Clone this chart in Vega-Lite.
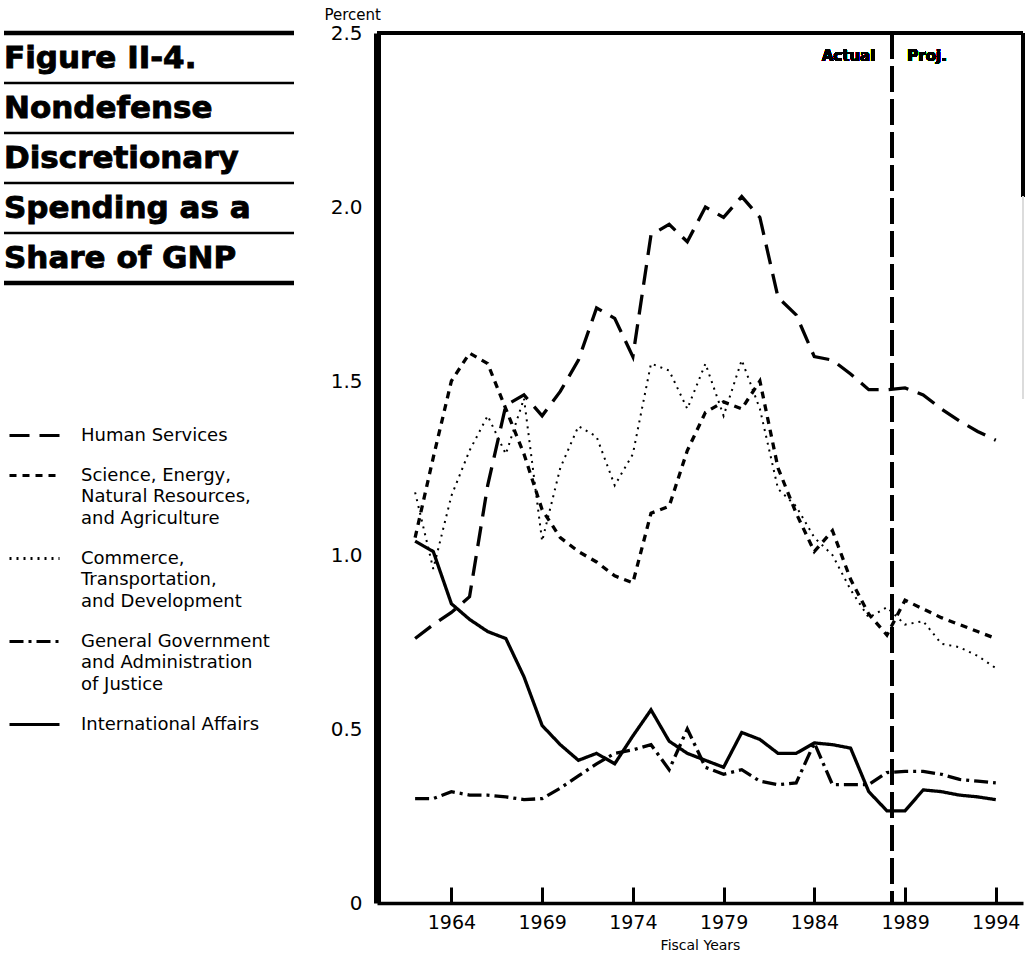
{
  "$schema": "https://vega.github.io/schema/vega-lite/v6.json",
  "padding": {"left": 1, "top": 7, "right": 0, "bottom": 0},
  "bounds": "flush",
  "spacing": 83,
  "background": "white",
  "datasets": {
    "titleLines": [
      {"order": 1, "line": "Figure II-4."},
      {"order": 2, "line": "Nondefense"},
      {"order": 3, "line": "Discretionary"},
      {"order": 4, "line": "Spending as a"},
      {"order": 5, "line": "Share of GNP"}
    ],
    "spending": [
      {"year": 1962, "series": "Human Services", "value": 0.76},
      {"year": 1963, "series": "Human Services", "value": 0.80},
      {"year": 1964, "series": "Human Services", "value": 0.835},
      {"year": 1965, "series": "Human Services", "value": 0.88},
      {"year": 1966, "series": "Human Services", "value": 1.20},
      {"year": 1967, "series": "Human Services", "value": 1.43},
      {"year": 1968, "series": "Human Services", "value": 1.46},
      {"year": 1969, "series": "Human Services", "value": 1.40},
      {"year": 1970, "series": "Human Services", "value": 1.47},
      {"year": 1971, "series": "Human Services", "value": 1.56},
      {"year": 1972, "series": "Human Services", "value": 1.71},
      {"year": 1973, "series": "Human Services", "value": 1.68},
      {"year": 1974, "series": "Human Services", "value": 1.57},
      {"year": 1975, "series": "Human Services", "value": 1.92},
      {"year": 1976, "series": "Human Services", "value": 1.95},
      {"year": 1977, "series": "Human Services", "value": 1.90},
      {"year": 1978, "series": "Human Services", "value": 2.00},
      {"year": 1979, "series": "Human Services", "value": 1.97},
      {"year": 1980, "series": "Human Services", "value": 2.03},
      {"year": 1981, "series": "Human Services", "value": 1.97},
      {"year": 1982, "series": "Human Services", "value": 1.74},
      {"year": 1983, "series": "Human Services", "value": 1.69},
      {"year": 1984, "series": "Human Services", "value": 1.57},
      {"year": 1985, "series": "Human Services", "value": 1.56},
      {"year": 1986, "series": "Human Services", "value": 1.52},
      {"year": 1987, "series": "Human Services", "value": 1.475},
      {"year": 1988, "series": "Human Services", "value": 1.475},
      {"year": 1989, "series": "Human Services", "value": 1.48},
      {"year": 1990, "series": "Human Services", "value": 1.46},
      {"year": 1991, "series": "Human Services", "value": 1.42},
      {"year": 1992, "series": "Human Services", "value": 1.385},
      {"year": 1993, "series": "Human Services", "value": 1.355},
      {"year": 1994, "series": "Human Services", "value": 1.33},
      {"year": 1962, "series": "Science, Energy,\nNatural Resources,\nand Agriculture", "value": 1.05},
      {"year": 1963, "series": "Science, Energy,\nNatural Resources,\nand Agriculture", "value": 1.28},
      {"year": 1964, "series": "Science, Energy,\nNatural Resources,\nand Agriculture", "value": 1.50},
      {"year": 1965, "series": "Science, Energy,\nNatural Resources,\nand Agriculture", "value": 1.58},
      {"year": 1966, "series": "Science, Energy,\nNatural Resources,\nand Agriculture", "value": 1.55},
      {"year": 1967, "series": "Science, Energy,\nNatural Resources,\nand Agriculture", "value": 1.42},
      {"year": 1968, "series": "Science, Energy,\nNatural Resources,\nand Agriculture", "value": 1.29},
      {"year": 1969, "series": "Science, Energy,\nNatural Resources,\nand Agriculture", "value": 1.13},
      {"year": 1970, "series": "Science, Energy,\nNatural Resources,\nand Agriculture", "value": 1.05},
      {"year": 1971, "series": "Science, Energy,\nNatural Resources,\nand Agriculture", "value": 1.01},
      {"year": 1972, "series": "Science, Energy,\nNatural Resources,\nand Agriculture", "value": 0.98},
      {"year": 1973, "series": "Science, Energy,\nNatural Resources,\nand Agriculture", "value": 0.94},
      {"year": 1974, "series": "Science, Energy,\nNatural Resources,\nand Agriculture", "value": 0.92},
      {"year": 1975, "series": "Science, Energy,\nNatural Resources,\nand Agriculture", "value": 1.12},
      {"year": 1976, "series": "Science, Energy,\nNatural Resources,\nand Agriculture", "value": 1.14},
      {"year": 1977, "series": "Science, Energy,\nNatural Resources,\nand Agriculture", "value": 1.30},
      {"year": 1978, "series": "Science, Energy,\nNatural Resources,\nand Agriculture", "value": 1.41},
      {"year": 1979, "series": "Science, Energy,\nNatural Resources,\nand Agriculture", "value": 1.44},
      {"year": 1980, "series": "Science, Energy,\nNatural Resources,\nand Agriculture", "value": 1.42},
      {"year": 1981, "series": "Science, Energy,\nNatural Resources,\nand Agriculture", "value": 1.50},
      {"year": 1982, "series": "Science, Energy,\nNatural Resources,\nand Agriculture", "value": 1.25},
      {"year": 1983, "series": "Science, Energy,\nNatural Resources,\nand Agriculture", "value": 1.12},
      {"year": 1984, "series": "Science, Energy,\nNatural Resources,\nand Agriculture", "value": 1.01},
      {"year": 1985, "series": "Science, Energy,\nNatural Resources,\nand Agriculture", "value": 1.07},
      {"year": 1986, "series": "Science, Energy,\nNatural Resources,\nand Agriculture", "value": 0.93},
      {"year": 1987, "series": "Science, Energy,\nNatural Resources,\nand Agriculture", "value": 0.83},
      {"year": 1988, "series": "Science, Energy,\nNatural Resources,\nand Agriculture", "value": 0.77},
      {"year": 1989, "series": "Science, Energy,\nNatural Resources,\nand Agriculture", "value": 0.87},
      {"year": 1990, "series": "Science, Energy,\nNatural Resources,\nand Agriculture", "value": 0.845},
      {"year": 1991, "series": "Science, Energy,\nNatural Resources,\nand Agriculture", "value": 0.82},
      {"year": 1992, "series": "Science, Energy,\nNatural Resources,\nand Agriculture", "value": 0.80},
      {"year": 1993, "series": "Science, Energy,\nNatural Resources,\nand Agriculture", "value": 0.78},
      {"year": 1994, "series": "Science, Energy,\nNatural Resources,\nand Agriculture", "value": 0.76},
      {"year": 1962, "series": "Commerce,\nTransportation,\nand Development", "value": 1.18},
      {"year": 1963, "series": "Commerce,\nTransportation,\nand Development", "value": 0.96},
      {"year": 1964, "series": "Commerce,\nTransportation,\nand Development", "value": 1.17},
      {"year": 1965, "series": "Commerce,\nTransportation,\nand Development", "value": 1.30},
      {"year": 1966, "series": "Commerce,\nTransportation,\nand Development", "value": 1.40},
      {"year": 1967, "series": "Commerce,\nTransportation,\nand Development", "value": 1.29},
      {"year": 1968, "series": "Commerce,\nTransportation,\nand Development", "value": 1.45},
      {"year": 1969, "series": "Commerce,\nTransportation,\nand Development", "value": 1.04},
      {"year": 1970, "series": "Commerce,\nTransportation,\nand Development", "value": 1.25},
      {"year": 1971, "series": "Commerce,\nTransportation,\nand Development", "value": 1.37},
      {"year": 1972, "series": "Commerce,\nTransportation,\nand Development", "value": 1.34},
      {"year": 1973, "series": "Commerce,\nTransportation,\nand Development", "value": 1.20},
      {"year": 1974, "series": "Commerce,\nTransportation,\nand Development", "value": 1.29},
      {"year": 1975, "series": "Commerce,\nTransportation,\nand Development", "value": 1.55},
      {"year": 1976, "series": "Commerce,\nTransportation,\nand Development", "value": 1.53},
      {"year": 1977, "series": "Commerce,\nTransportation,\nand Development", "value": 1.42},
      {"year": 1978, "series": "Commerce,\nTransportation,\nand Development", "value": 1.55},
      {"year": 1979, "series": "Commerce,\nTransportation,\nand Development", "value": 1.40},
      {"year": 1980, "series": "Commerce,\nTransportation,\nand Development", "value": 1.56},
      {"year": 1981, "series": "Commerce,\nTransportation,\nand Development", "value": 1.42},
      {"year": 1982, "series": "Commerce,\nTransportation,\nand Development", "value": 1.19},
      {"year": 1983, "series": "Commerce,\nTransportation,\nand Development", "value": 1.14},
      {"year": 1984, "series": "Commerce,\nTransportation,\nand Development", "value": 1.05},
      {"year": 1985, "series": "Commerce,\nTransportation,\nand Development", "value": 1.00},
      {"year": 1986, "series": "Commerce,\nTransportation,\nand Development", "value": 0.90},
      {"year": 1987, "series": "Commerce,\nTransportation,\nand Development", "value": 0.82},
      {"year": 1988, "series": "Commerce,\nTransportation,\nand Development", "value": 0.85},
      {"year": 1989, "series": "Commerce,\nTransportation,\nand Development", "value": 0.80},
      {"year": 1990, "series": "Commerce,\nTransportation,\nand Development", "value": 0.81},
      {"year": 1991, "series": "Commerce,\nTransportation,\nand Development", "value": 0.745},
      {"year": 1992, "series": "Commerce,\nTransportation,\nand Development", "value": 0.735},
      {"year": 1993, "series": "Commerce,\nTransportation,\nand Development", "value": 0.71},
      {"year": 1994, "series": "Commerce,\nTransportation,\nand Development", "value": 0.675},
      {"year": 1962, "series": "General Government\nand Administration\nof Justice", "value": 0.30},
      {"year": 1963, "series": "General Government\nand Administration\nof Justice", "value": 0.30},
      {"year": 1964, "series": "General Government\nand Administration\nof Justice", "value": 0.32},
      {"year": 1965, "series": "General Government\nand Administration\nof Justice", "value": 0.31},
      {"year": 1966, "series": "General Government\nand Administration\nof Justice", "value": 0.31},
      {"year": 1967, "series": "General Government\nand Administration\nof Justice", "value": 0.305},
      {"year": 1968, "series": "General Government\nand Administration\nof Justice", "value": 0.297},
      {"year": 1969, "series": "General Government\nand Administration\nof Justice", "value": 0.30},
      {"year": 1970, "series": "General Government\nand Administration\nof Justice", "value": 0.33},
      {"year": 1971, "series": "General Government\nand Administration\nof Justice", "value": 0.365},
      {"year": 1972, "series": "General Government\nand Administration\nof Justice", "value": 0.40},
      {"year": 1973, "series": "General Government\nand Administration\nof Justice", "value": 0.43},
      {"year": 1974, "series": "General Government\nand Administration\nof Justice", "value": 0.44},
      {"year": 1975, "series": "General Government\nand Administration\nof Justice", "value": 0.455},
      {"year": 1976, "series": "General Government\nand Administration\nof Justice", "value": 0.383},
      {"year": 1977, "series": "General Government\nand Administration\nof Justice", "value": 0.50},
      {"year": 1978, "series": "General Government\nand Administration\nof Justice", "value": 0.39},
      {"year": 1979, "series": "General Government\nand Administration\nof Justice", "value": 0.37},
      {"year": 1980, "series": "General Government\nand Administration\nof Justice", "value": 0.383},
      {"year": 1981, "series": "General Government\nand Administration\nof Justice", "value": 0.35},
      {"year": 1982, "series": "General Government\nand Administration\nof Justice", "value": 0.34},
      {"year": 1983, "series": "General Government\nand Administration\nof Justice", "value": 0.345},
      {"year": 1984, "series": "General Government\nand Administration\nof Justice", "value": 0.46},
      {"year": 1985, "series": "General Government\nand Administration\nof Justice", "value": 0.34},
      {"year": 1986, "series": "General Government\nand Administration\nof Justice", "value": 0.34},
      {"year": 1987, "series": "General Government\nand Administration\nof Justice", "value": 0.34},
      {"year": 1988, "series": "General Government\nand Administration\nof Justice", "value": 0.375},
      {"year": 1989, "series": "General Government\nand Administration\nof Justice", "value": 0.378},
      {"year": 1990, "series": "General Government\nand Administration\nof Justice", "value": 0.378},
      {"year": 1991, "series": "General Government\nand Administration\nof Justice", "value": 0.37},
      {"year": 1992, "series": "General Government\nand Administration\nof Justice", "value": 0.355},
      {"year": 1993, "series": "General Government\nand Administration\nof Justice", "value": 0.35},
      {"year": 1994, "series": "General Government\nand Administration\nof Justice", "value": 0.345},
      {"year": 1962, "series": "International Affairs", "value": 1.04},
      {"year": 1963, "series": "International Affairs", "value": 1.01},
      {"year": 1964, "series": "International Affairs", "value": 0.86},
      {"year": 1965, "series": "International Affairs", "value": 0.815},
      {"year": 1966, "series": "International Affairs", "value": 0.78},
      {"year": 1967, "series": "International Affairs", "value": 0.76},
      {"year": 1968, "series": "International Affairs", "value": 0.65},
      {"year": 1969, "series": "International Affairs", "value": 0.51},
      {"year": 1970, "series": "International Affairs", "value": 0.455},
      {"year": 1971, "series": "International Affairs", "value": 0.41},
      {"year": 1972, "series": "International Affairs", "value": 0.43},
      {"year": 1973, "series": "International Affairs", "value": 0.40},
      {"year": 1974, "series": "International Affairs", "value": 0.48},
      {"year": 1975, "series": "International Affairs", "value": 0.555},
      {"year": 1976, "series": "International Affairs", "value": 0.465},
      {"year": 1977, "series": "International Affairs", "value": 0.43},
      {"year": 1978, "series": "International Affairs", "value": 0.41},
      {"year": 1979, "series": "International Affairs", "value": 0.39},
      {"year": 1980, "series": "International Affairs", "value": 0.49},
      {"year": 1981, "series": "International Affairs", "value": 0.47},
      {"year": 1982, "series": "International Affairs", "value": 0.43},
      {"year": 1983, "series": "International Affairs", "value": 0.43},
      {"year": 1984, "series": "International Affairs", "value": 0.46},
      {"year": 1985, "series": "International Affairs", "value": 0.455},
      {"year": 1986, "series": "International Affairs", "value": 0.445},
      {"year": 1987, "series": "International Affairs", "value": 0.32},
      {"year": 1988, "series": "International Affairs", "value": 0.265},
      {"year": 1989, "series": "International Affairs", "value": 0.265},
      {"year": 1990, "series": "International Affairs", "value": 0.325},
      {"year": 1991, "series": "International Affairs", "value": 0.32},
      {"year": 1992, "series": "International Affairs", "value": 0.31},
      {"year": 1993, "series": "International Affairs", "value": 0.305},
      {"year": 1994, "series": "International Affairs", "value": 0.297}
    ]
  },
  "hconcat": [
    {
      "width": 290,
      "height": 250,
      "data": {"name": "titleLines"},
      "layer": [
        {
          "mark": {"type": "text", "align": "left", "baseline": "alphabetic", "font": "DejaVu Sans", "fontSize": 31, "fontWeight": "bold", "color": "black", "stroke": "black", "strokeWidth": 0.9},
          "encoding": {
            "x": {"datum": 0, "type": "quantitative", "scale": {"domain": [0, 1], "nice": false, "zero": false}, "axis": null},
            "y": {"field": "order", "type": "ordinal", "bandPosition": 0.7, "scale": {"type": "band", "paddingInner": 0, "paddingOuter": 0}, "axis": null},
            "text": {"field": "line"}
          }
        },
        {
          "transform": [{"filter": "datum.order == 1"}],
          "mark": {"type": "rule", "color": "black", "strokeWidth": 4.5},
          "encoding": {
            "x": {"datum": 0, "type": "quantitative"},
            "x2": {"datum": 1},
            "y": {"field": "order", "type": "ordinal", "bandPosition": 0}
          }
        },
        {
          "transform": [{"filter": "datum.order > 1"}],
          "mark": {"type": "rule", "color": "black", "strokeWidth": 2.5},
          "encoding": {
            "x": {"datum": 0, "type": "quantitative"},
            "x2": {"datum": 1},
            "y": {"field": "order", "type": "ordinal", "bandPosition": 0}
          }
        },
        {
          "transform": [{"filter": "datum.order == 5"}],
          "mark": {"type": "rule", "color": "black", "strokeWidth": 4.5},
          "encoding": {
            "x": {"datum": 0, "type": "quantitative"},
            "x2": {"datum": 1},
            "y": {"field": "order", "type": "ordinal", "bandPosition": 1}
          }
        }
      ]
    },
    {
      "width": 646,
      "height": 870,
      "data": {"name": "spending"},
      "layer": [
        {
          "transform": [{"filter": "indexof(datum.series, 'Commerce') != 0"}],
          "mark": {"type": "line", "color": "black", "strokeWidth": 3.3},
          "encoding": {
            "x": {
              "field": "year", "type": "quantitative",
              "scale": {"domain": [1959.9, 1995.5], "nice": false, "zero": false},
              "axis": {
                "values": [1964, 1969, 1974, 1979, 1984, 1989, 1994],
                "format": "d",
                "title": "Fiscal Years",
                "titleFontSize": 14, "titleFontWeight": "normal", "titleColor": "black", "titlePadding": 6,
                "labelFontSize": 19, "labelColor": "black", "labelPadding": 26, "labelFlush": false,
                "tickSize": -16, "tickWidth": 3, "tickColor": "black",
                "domainColor": "black", "domainWidth": 3.5, "grid": false
              }
            },
            "y": {
              "field": "value", "type": "quantitative",
              "scale": {"domain": [0, 2.5], "nice": false},
              "axis": {
                "values": [0, 0.5, 1, 1.5, 2, 2.5],
                "labelExpr": "datum.value == 0 ? '0' : format(datum.value, '.1f')",
                "ticks": false, "grid": false, "labelFlush": false,
                "domainWidth": 7, "domainColor": "black",
                "labelPadding": 15, "labelFontSize": 20, "labelColor": "black",
                "title": "Percent", "titleAngle": 0, "titleX": -53, "titleY": -14,
                "titleAlign": "left", "titleBaseline": "alphabetic",
                "titleFontSize": 15, "titleFontWeight": "normal", "titleColor": "black"
              }
            },
            "strokeDash": {
              "field": "series", "type": "nominal",
              "scale": {
                "domain": [
                  "Human Services",
                  "Science, Energy,\nNatural Resources,\nand Agriculture",
                  "Commerce,\nTransportation,\nand Development",
                  "General Government\nand Administration\nof Justice",
                  "International Affairs"
                ],
                "range": [[20, 10], [7, 6], [2, 5], [14, 5, 3, 5], [1, 0]]
              },
              "legend": {
                "title": null, "orient": "none", "legendX": 4, "legendY": 376,
                "direction": "vertical", "padding": 0,
                "symbolType": "stroke", "symbolSize": 2500, "symbolStrokeWidth": 3, "symbolStrokeColor": "black",
                "labelFontSize": 18, "labelColor": "black", "labelOffset": 20, "labelLimit": 400,
                "rowPadding": 4
              }
            }
          }
        },
        {
          "transform": [{"filter": "indexof(datum.series, 'Commerce') == 0"}],
          "mark": {"type": "line", "color": "black", "strokeWidth": 2},
          "encoding": {
            "x": {"field": "year", "type": "quantitative"},
            "y": {"field": "value", "type": "quantitative"},
            "strokeDash": {"field": "series", "type": "nominal"}
          }
        },
        {
          "mark": {"type": "rule", "color": "black", "strokeWidth": 3.5},
          "encoding": {"y": {"datum": 2.5, "type": "quantitative"}}
        },
        {
          "mark": {"type": "rule", "color": "black", "strokeWidth": 3},
          "encoding": {"x": {"datum": 1995.5, "type": "quantitative"}, "y": {"datum": 2.5, "type": "quantitative"}, "y2": {"datum": 2.03}}
        },
        {
          "mark": {"type": "rule", "color": "#dcdcdc", "strokeWidth": 2},
          "encoding": {"x": {"datum": 1995.5, "type": "quantitative"}, "y": {"datum": 2.03, "type": "quantitative"}, "y2": {"datum": 1.45}}
        },
        {
          "mark": {"type": "rule", "color": "black", "strokeWidth": 3, "strokeDash": [26, 7]},
          "encoding": {"x": {"datum": 1988.3, "type": "quantitative"}}
        },
        {
          "mark": {"type": "text", "align": "right", "baseline": "alphabetic", "dx": -17, "fontSize": 15, "fontWeight": "bold", "color": "black"},
          "encoding": {"x": {"datum": 1988.3, "type": "quantitative"}, "y": {"datum": 2.42, "type": "quantitative"}, "text": {"value": "Actual"}}
        },
        {
          "mark": {"type": "text", "align": "left", "baseline": "alphabetic", "dx": 15, "fontSize": 15, "fontWeight": "bold", "color": "black"},
          "encoding": {"x": {"datum": 1988.3, "type": "quantitative"}, "y": {"datum": 2.42, "type": "quantitative"}, "text": {"value": "Proj."}}
        }
      ]
    }
  ],
  "config": {
    "font": "DejaVu Sans",
    "view": {"stroke": null},
    "style": {"guide-label": {"lineHeight": 21.7, "lineBreak": "\n"}}
  }
}
